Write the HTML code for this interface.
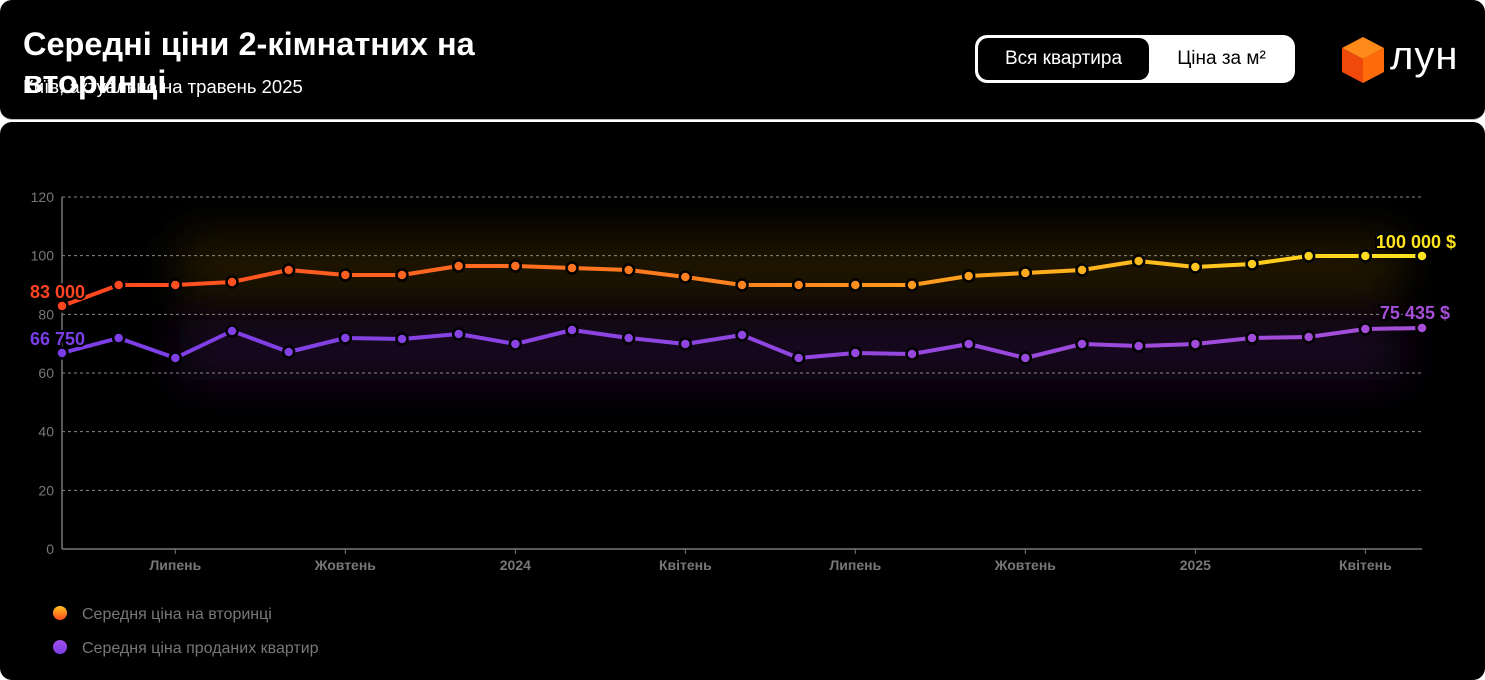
<!DOCTYPE html>
<html><head><meta charset="utf-8">
<style>
html,body{margin:0;padding:0;background:#fff;width:1485px;height:680px;overflow:hidden;font-family:"Liberation Sans",sans-serif;}
.top{position:absolute;left:0;top:0;width:1485px;height:119px;background:#000;border-radius:12px;border-bottom:1px solid #bbb;}
.main{position:absolute;left:0;top:122px;width:1485px;height:558px;background:#000;border-radius:12px 12px 12px 12px;}
.title{position:absolute;left:23px;top:25px;color:#fff;font-weight:bold;font-size:32.5px;line-height:38px;width:520px;}
.sub{position:absolute;left:23px;top:76px;color:#fff;font-size:18.5px;}
.tog{position:absolute;left:975px;top:35px;width:320px;height:48px;background:#fff;border-radius:12px;}
.tog .a{position:absolute;left:3px;top:3px;width:171px;height:42px;background:#000;border-radius:10px;color:#fff;font-size:19px;line-height:42px;text-align:center;}
.tog .b{position:absolute;left:176px;top:3px;width:141px;height:42px;color:#000;font-size:19px;line-height:42px;text-align:center;}
.logo{position:absolute;left:1390px;top:36px;color:#fff;font-size:40px;font-weight:normal;letter-spacing:1px;line-height:40px;}
</style></head><body>
<div class="top">
<div class="sub">Київ, актуально на травень 2025</div>
<div class="title">Середні ціни 2-кімнатних на вторинці</div>
<div class="tog"><div class="a">Вся квартира</div><div class="b">Ціна за м²</div></div>
<svg style="position:absolute;left:1340px;top:35px" width="46" height="50" viewBox="0 0 46 50">
<polygon points="23,2 44,13 23,24 2,13" fill="#ff8a1a"/>
<polygon points="2,13 23,24 23,48 2,37" fill="#f04a0a"/>
<polygon points="23,24 44,13 44,37 23,48" fill="#ff6a0a"/>
</svg>
<div class="logo">лун</div>
</div>
<div class="main"></div>
<svg id="c" style="position:absolute;left:0;top:0" width="1485" height="680"></svg>
<script>
const o=[306,285,285,282,270,275,275,266,266,268,270,277,285,285,285,285,276,273,270,261,267,264,256,256,256];
const p=[353,338,358,331,352,338,339,334,344,330,338,344,335,358,353,354,344,358,344,346,344,338,337,329,328];
const X=i=>62+i*1360/24;
let s=`<defs>
<linearGradient id="go" x1="62" x2="1422" y1="0" y2="0" gradientUnits="userSpaceOnUse"><stop offset="0" stop-color="#ff4421"/><stop offset="0.55" stop-color="#ff8a1f"/><stop offset="1" stop-color="#ffe41f"/></linearGradient>
<linearGradient id="gp" x1="62" x2="1422" y1="0" y2="0" gradientUnits="userSpaceOnUse"><stop offset="0" stop-color="#7a3ee8"/><stop offset="1" stop-color="#a64ed8"/></linearGradient>
<filter id="bl" x="-10%" y="-200%" width="120%" height="500%"><feGaussianBlur stdDeviation="22"/></filter>
<linearGradient id="lo" x1="0" y1="0" x2="0" y2="1"><stop offset="0" stop-color="#ffc21f"/><stop offset="1" stop-color="#ff4a1f"/></linearGradient>
<linearGradient id="lp" x1="0" y1="0" x2="0" y2="1"><stop offset="0" stop-color="#a04ee8"/><stop offset="1" stop-color="#7a3ee8"/></linearGradient>
</defs>`;
s+=`<rect x="180" y="235" width="1220" height="70" fill="#3a2a00" opacity="0.55" filter="url(#bl)"/>`;
s+=`<rect x="180" y="320" width="1220" height="60" fill="#2a0a3a" opacity="0.6" filter="url(#bl)"/>`;
[120,100,80,60,40,20].forEach(v=>{const y=549-v*352/120;s+=`<line x1="62" x2="1422" y1="${y}" y2="${y}" stroke="#888" stroke-dasharray="3,3" stroke-width="1"/>`;});
[0,20,40,60,80,100,120].forEach(v=>{const y=549-v*352/120;s+=`<text x="54" y="${y+5}" fill="#777" font-size="14" text-anchor="end" font-family="Liberation Sans">${v}</text>`;});
s+=`<line x1="62" x2="62" y1="197" y2="549" stroke="#777" stroke-width="1.5"/><line x1="62" x2="1422" y1="549" y2="549" stroke="#777" stroke-width="1.5"/>`;
[[2,'Липень'],[5,'Жовтень'],[8,'2024'],[11,'Квітень'],[14,'Липень'],[17,'Жовтень'],[20,'2025'],[23,'Квітень']].forEach(([i,t])=>{const x=X(i);s+=`<line x1="${x}" x2="${x}" y1="549" y2="554" stroke="#777"/><text x="${x}" y="570" fill="#777" font-size="14" font-weight="bold" text-anchor="middle" font-family="Liberation Sans">${t}</text>`;});
function line(d,g){let pts=d.map((y,i)=>X(i)+','+y).join(' ');let r=`<polyline points="${pts}" fill="none" stroke="${g}" stroke-width="4" stroke-linejoin="round"/>`;d.forEach((y,i)=>{r+=`<circle cx="${X(i)}" cy="${y}" r="5.5" fill="${g}" stroke="#000" stroke-width="2.5"/>`});return r;}
s+=line(o,'url(#go)')+line(p,'url(#gp)');
const lab=(x,y,t,c,a)=>`<text x="${x}" y="${y}" fill="${c}" font-size="18" font-weight="bold" text-anchor="${a}" stroke="#000" stroke-width="4" paint-order="stroke" font-family="Liberation Sans">${t}</text>`;
s+=lab(30,298,'83 000','#ff4421','start')+lab(30,345,'66 750','#7a3ee8','start')+lab(1456,248,'100 000 $','#ffe41f','end')+lab(1450,319,'75 435 $','#a64ed8','end');
s+=`<circle cx="60" cy="613" r="7" fill="url(#lo)"/><text x="82" y="619" fill="#777" font-size="16" font-family="Liberation Sans">Середня ціна на вторинці</text>`;
s+=`<circle cx="60" cy="647" r="7" fill="url(#lp)"/><text x="82" y="653" fill="#777" font-size="16" font-family="Liberation Sans">Середня ціна проданих квартир</text>`;
document.getElementById('c').innerHTML=s;
</script>
</body></html>
